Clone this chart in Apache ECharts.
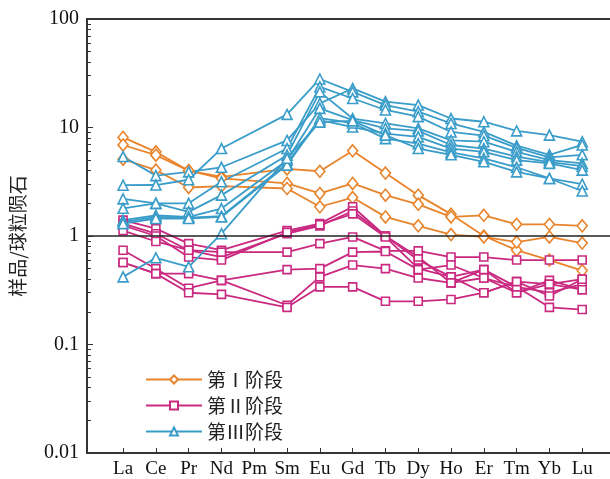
<!DOCTYPE html>
<html>
<head>
<meta charset="utf-8">
<title>REE</title>
<script src="https://cdn.jsdelivr.net/npm/echarts@6/dist/echarts.min.js"></script>
<style>
  html, body { margin: 0; padding: 0; background: #fff; }
  #ree { width: 610px; height: 479px; }
</style>
</head>
<body>
<div id="ree"></div>
<script>
// 稀土元素（Pm 无数据）
const elements = ["La", "Ce", "Pr", "Nd", "Pm", "Sm", "Eu", "Gd", "Tb", "Dy", "Ho", "Er", "Tm", "Yb", "Lu"];
const yTicks = [0.01, 0.1, 1, 10, 100];

// 第Ⅰ阶段
const stage1 = [
  [8.1, 5.97, 4.0, 3.5, null, 4.15, 3.95, 6.1, 3.8, 2.38, 1.59, 1.0, 0.74, 0.6, 0.48],
  [6.9, 5.56, 4.0, 3.4, null, 3.05, 2.47, 3.05, 2.38, 1.96, 1.5, 1.55, 1.28, 1.28, 1.24],
  [5.1, 4.05, 2.8, 2.88, null, 2.74, 1.86, 2.26, 1.5, 1.24, 1.03, 0.98, 0.88, 0.98, 0.86]
];
// 第Ⅱ阶段
const stage2 = [
  [1.4, 1.17, 0.85, 0.74, null, 1.12, 1.3, 1.86, 1.0, 0.6, 0.42, 0.49, 0.34, 0.3, 0.36],
  [1.3, 1.05, 0.74, 0.64, null, 1.05, 1.24, 1.7, 1.0, 0.64, 0.37, 0.41, 0.3, 0.36, 0.32],
  [1.25, 1.0, 0.64, 0.6, null, 1.08, 1.27, 1.6, 0.98, 0.5, 0.42, 0.3, 0.38, 0.28, 0.4],
  [1.12, 0.89, 0.74, 0.71, null, 0.71, 0.85, 0.98, 0.73, 0.73, 0.64, 0.64, 0.6, 0.6, 0.6],
  [0.74, 0.5, 0.33, 0.39, null, 0.23, 0.42, 0.54, 0.5, 0.41, 0.37, 0.49, 0.3, 0.39, 0.32],
  [0.57, 0.45, 0.45, 0.39, null, 0.49, 0.5, 0.71, 0.72, 0.49, 0.54, 0.41, 0.34, 0.22, 0.21],
  [0.57, 0.45, 0.3, 0.29, null, 0.22, 0.34, 0.34, 0.25, 0.25, 0.26, 0.3, 0.38, 0.36, 0.4]
];
// 第Ⅲ阶段
const stage3 = [
  [5.4, 3.6, 3.9, 4.3, null, 7.6, 16.7, 22.9, 17.3, 16.1, 12.1, 11.3, 9.3, 8.5, 7.4],
  [2.94, 2.95, 3.3, 6.4, null, 13.2, 28, 21.3, 16.1, 14.0, 10.9, 9.1, 6.8, 5.6, 6.9],
  [2.2, 2.0, 2.0, 3.16, null, 6.4, 23.7, 18.5, 14.5, 12.6, 9.1, 8.4, 6.5, 5.3, 5.6],
  [1.8, 2.0, 1.67, 2.38, null, 5.56, 21.3, 12.1, 10.9, 9.8, 7.6, 7.4, 5.97, 5.0, 4.67],
  [1.4, 1.55, 1.5, 1.79, null, 5.0, 15.0, 11.7, 9.8, 9.3, 6.9, 6.4, 5.4, 4.8, 4.4],
  [1.35, 1.5, 1.48, 1.52, null, 4.67, 11.7, 10.1, 8.8, 8.2, 6.4, 5.97, 5.0, 4.67, 4.05],
  [1.3, 1.45, 1.45, 1.5, null, 4.5, 12.2, 11.0, 7.9, 7.1, 5.9, 5.19, 4.3, 3.39, 3.0],
  [0.42, 0.63, 0.52, 1.05, null, 5.2, 11.2, 11.5, 8.5, 6.4, 5.6, 4.83, 3.9, 3.39, 2.6]
];

const stages = [
  { name: "第Ⅰ阶段", color: "#e8842c", symbol: "diamond", size: [10, 12], rows: stage1 },
  { name: "第Ⅱ阶段", color: "#c92a80", symbol: "rect", size: 8, rows: stage2 },
  { name: "第Ⅲ阶段", color: "#3a9dc9", symbol: "triangle", size: 10, rows: stage3 }
];

// 对数轴次刻度 2..9
const minorTicks = [];
for (let e = -2; e < 2; e++) {
  for (let k = 2; k <= 9; k++) minorTicks.push(Math.log10(k * Math.pow(10, e)));
}

const series = [];
stages.forEach(function (st) {
  st.rows.forEach(function (row) {
    const pts = [];
    row.forEach(function (v, i) {
      if (v !== null) pts.push([i, v]);
    });
    series.push({
      name: st.name,
      type: "line",
      yAxisIndex: 0,
      data: pts,
      symbol: st.symbol,
      symbolSize: st.size,
      lineStyle: { color: st.color, width: 1.8 },
      itemStyle: { color: "#fff", borderColor: st.color, borderWidth: 1.6 },
      emphasis: { disabled: true },
      animation: false
    });
  });
});
// y = 1 参考线
series[0].markLine = {
  silent: true,
  symbol: "none",
  label: { show: false },
  lineStyle: { color: "#222", width: 1.6, type: "solid" },
  data: [{ yAxis: 1 }]
};

const serif = "'Liberation Serif', 'Times New Roman', serif";
const cjk = "'Noto Sans CJK SC', sans-serif";
const idx = elements.map(function (e, i) { return i; });

const chart = echarts.init(document.getElementById("ree"));
chart.setOption({
  backgroundColor: "#fff",
  animation: false,
  grid: {
    left: 87, top: 19, right: -5, bottom: 26,
    show: true, borderColor: "#333", borderWidth: 2,
    outerBoundsMode: "none"
  },
  legend: {
    left: 140, top: 364, orient: "vertical",
    itemWidth: 56, itemHeight: 10, itemGap: 5,
    data: stages.map(function (s) { return s.name; }),
    textStyle: { fontFamily: cjk, fontSize: 19, color: "#222", lineHeight: 21 }
  },
  xAxis: {
    type: "value", min: -1.1, max: 15,
    splitLine: { show: false },
    axisLine: { onZero: false, lineStyle: { color: "#333", width: 2 } },
    axisTick: { inside: true, length: 5, customValues: idx, lineStyle: { color: "#333" } },
    axisLabel: {
      customValues: idx,
      formatter: function (v) { return elements[Math.round(v)]; },
      fontFamily: serif, fontSize: 19, color: "#111", margin: 7
    }
  },
  yAxis: [
    {
      type: "log", logBase: 10, min: 0.01, max: 100,
      name: "样品/球粒陨石", nameLocation: "middle", nameGap: 60,
      nameTextStyle: { fontFamily: cjk, fontSize: 19, color: "#222" },
      splitLine: { show: false },
      axisLine: { show: true, onZero: false, lineStyle: { color: "#333", width: 2 } },
      axisTick: { inside: true, length: 6, lineStyle: { color: "#333" } },
      axisLabel: {
        formatter: function (v) { return String(yTicks.find(function (t) { return Math.abs(t - v) / t < 1e-6; }) || v); },
        fontFamily: serif, fontSize: 20, color: "#111", margin: 8
      }
    },
    {
      type: "value", min: -2, max: 2, position: "left",
      splitLine: { show: false },
      axisLine: { show: false, onZero: false },
      axisLabel: { show: false },
      axisTick: { inside: true, length: 4, customValues: minorTicks, lineStyle: { color: "#333" } }
    }
  ],
  series: series
});
</script>
</body>
</html>
